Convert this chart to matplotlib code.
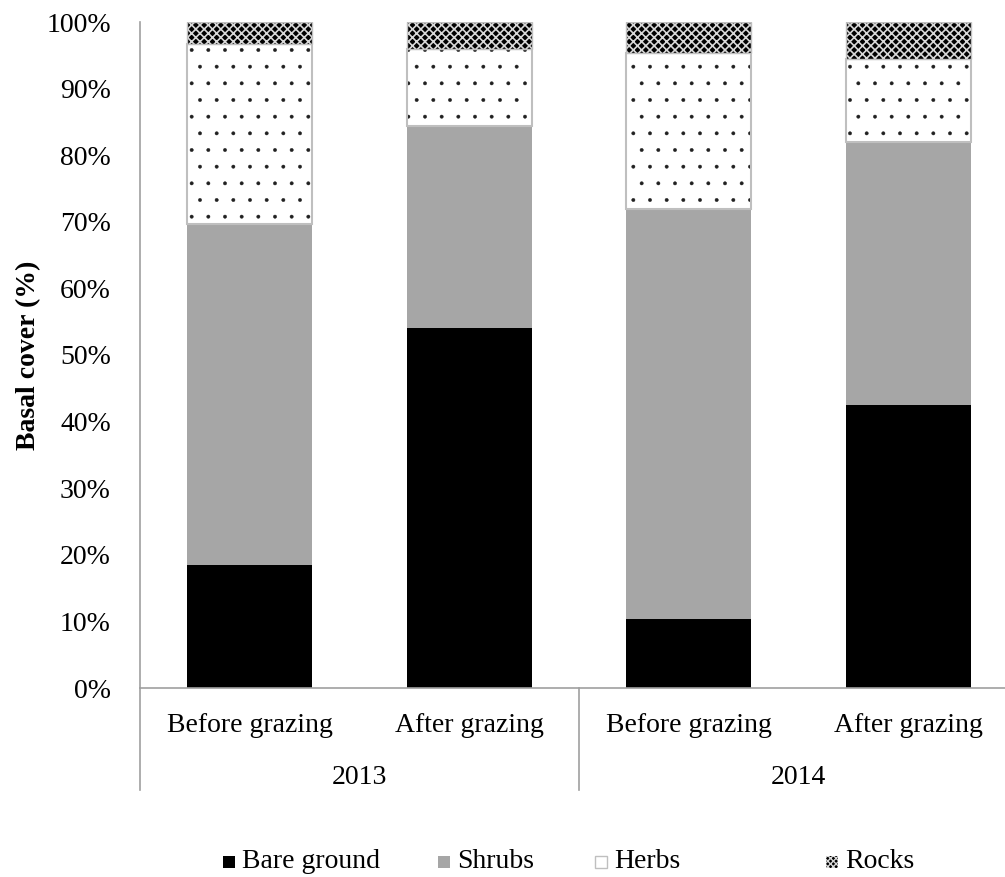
import matplotlib.pyplot as plt
from matplotlib.patches import Rectangle
from matplotlib.ticker import FuncFormatter

plt.rcParams['font.family'] = 'Liberation Serif'

# data (percent of basal cover)
stages = ['Before grazing', 'After grazing', 'Before grazing', 'After grazing']
years = ['2013', '2014']
bare = [18.5, 54.1, 10.4, 42.5]
shrubs = [51.1, 30.3, 61.5, 39.5]
herbs = [27.1, 11.6, 23.5, 12.5]
rocks = [3.3, 4.0, 4.6, 5.5]

W, H = 1005, 877
fig = plt.figure(figsize=(W / 100, H / 100), dpi=100)
ax = fig.add_axes([140 / W, (H - 688) / H, (W - 140) / W, 666 / H])


def set_hlw(container, lw):
    for p in container:
        if hasattr(p, 'set_hatch_linewidth'):
            p.set_hatch_linewidth(lw)


x = list(range(len(stages)))
bw = 0.57
b2 = [a + b for a, b in zip(bare, shrubs)]
b3 = [a + b for a, b in zip(b2, herbs)]

ax.bar(x, bare, bw, color='black', linewidth=0)
ax.bar(x, shrubs, bw, bottom=bare, color='#a6a6a6', linewidth=0)
plt.rcParams['hatch.linewidth'] = 0.3
hb = ax.bar(x, herbs, bw, bottom=b2, color='white', edgecolor='#202020', linewidth=0, hatch='.')
set_hlw(hb, 0.3)
ax.bar(x, herbs, bw, bottom=b2, fill=False, edgecolor='#bfbfbf', linewidth=1.5)
plt.rcParams['hatch.linewidth'] = 1.2
rb = ax.bar(x, rocks, bw, bottom=b3, color='black', edgecolor='#d8d8d8', linewidth=0, hatch='xxxx')
set_hlw(rb, 1.2)
ax.bar(x, rocks, bw, bottom=b3, fill=False, edgecolor='#bfbfbf', linewidth=1.0)

ax.set_xlim(-0.5, -0.5 + 865 / 219.5)
ax.set_ylim(0, 100)
ax.set_yticks(range(0, 101, 10))
ax.yaxis.set_major_formatter(FuncFormatter(lambda v, p: '%d%%' % v))
ax.tick_params(axis='y', length=0, pad=21, labelsize=20)
ax.set_xticks([])

for s in ['top', 'right']:
    ax.spines[s].set_visible(False)
for s in ['left', 'bottom']:
    ax.spines[s].set_color('#a0a0a0')
    ax.spines[s].set_linewidth(1.2)

ax.set_ylabel('Basal cover (%)', fontsize=20, fontweight='bold', labelpad=4)

# two-level category axis
tr = ax.get_xaxis_transform()
for i, lab in enumerate(stages):
    ax.text(i, -0.0556, lab, transform=tr, ha='center', va='center', fontsize=20)
for j, yr in enumerate(years):
    ax.text(2 * j + 0.5, -0.134, yr, transform=tr, ha='center', va='center', fontsize=20)
for xs in [-0.5, 1.5]:
    ax.plot([xs, xs], [0, -0.153], transform=tr, color='#a0a0a0', lw=1.2, clip_on=False)

# legend
items = [
    ('Bare ground', dict(facecolor='black', linewidth=0), 223, None),
    ('Shrubs', dict(facecolor='#a6a6a6', linewidth=0), 438, None),
    ('Herbs', dict(facecolor='white', edgecolor='#bfbfbf', linewidth=1), 595, None),
    ('Rocks', dict(facecolor='black', edgecolor='#d8d8d8', linewidth=0, hatch='xxxxxx'), 826, 1.0),
]
ly = 862
for name, style, px, hlw in items:
    r = Rectangle((px / W, (H - ly - 6) / H), 12 / W, 12 / H,
                  transform=fig.transFigure, **style)
    if hlw and hasattr(r, 'set_hatch_linewidth'):
        r.set_hatch_linewidth(hlw)
    fig.patches.append(r)
    fig.text((px + 19) / W, (H - ly) / H, name, fontsize=20, ha='left', va='center')

fig.savefig('out.png', dpi=100)
